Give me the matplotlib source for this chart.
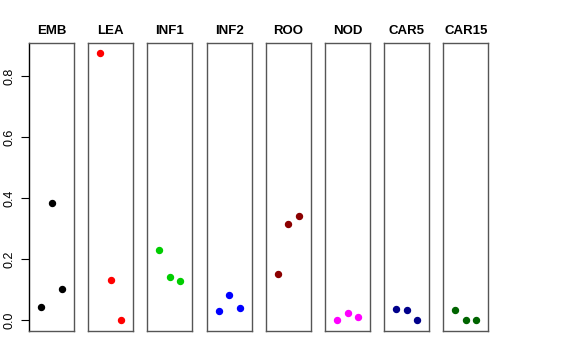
import numpy as np
import matplotlib.pyplot as plt

plt.rcParams['font.family'] = ['Liberation Sans', 'DejaVu Sans']

#----------------------------------------------------------------------------------------------------------------------
# Data

tissues = ["EMB", "LEA", "INF1", "INF2", "ROO", "NOD", "CAR5", "CAR15"]
colors = ["black", "red", "#00CD00", "blue", "#8B0000", "magenta", "#00008B", "#006400"]
reps = [1, 2, 3]

emb = [0.044, 0.385, 0.104]
lea = [0.875, 0.132, 0.0]
inf1 = [0.230, 0.143, 0.128]
inf2 = [0.030, 0.084, 0.039]
roo = [0.153, 0.315, 0.342]
nod = [0.001, 0.023, 0.012]
car5 = [0.036, 0.033, 0.0]
car15 = [0.034, 0.0, 0.0]

values = [emb, lea, inf1, inf2, roo, nod, car5, car15]

#----------------------------------------------------------------------------------------------------------------------
# Plot

W, H = 576, 360
fig = plt.figure(figsize=(W / 100, H / 100), dpi=100)

for i in range(len(tissues)):
    left = 29 + 59.2 * i
    ax = fig.add_axes([left / W, 1 - 331 / H, 45 / W, 288 / H])
    ax.plot(reps, values[i], "o", color=colors[i], markersize=4.3, linestyle="none")
    ax.set_xlim(-0.14, 4.14)
    ax.set_ylim(-0.035, 0.909)
    ax.set_title(tissues[i], fontsize=9.5, fontweight="bold", pad=6.5)
    ax.set_xticks([])
    for s in ax.spines.values():
        s.set_color("#555555")
        s.set_linewidth(1.0)
    if i == 0:
        ax.spines["left"].set_color("black")
        ax.set_yticks([0.0, 0.2, 0.4, 0.6, 0.8])
        ax.set_yticklabels(["0.0", "0.2", "0.4", "0.6", "0.8"], rotation=90, va="center")
        ax.tick_params(axis="y", length=5.5, labelsize=9, pad=4)
    else:
        ax.set_yticks([])

fig.savefig("out.png", dpi=100)
